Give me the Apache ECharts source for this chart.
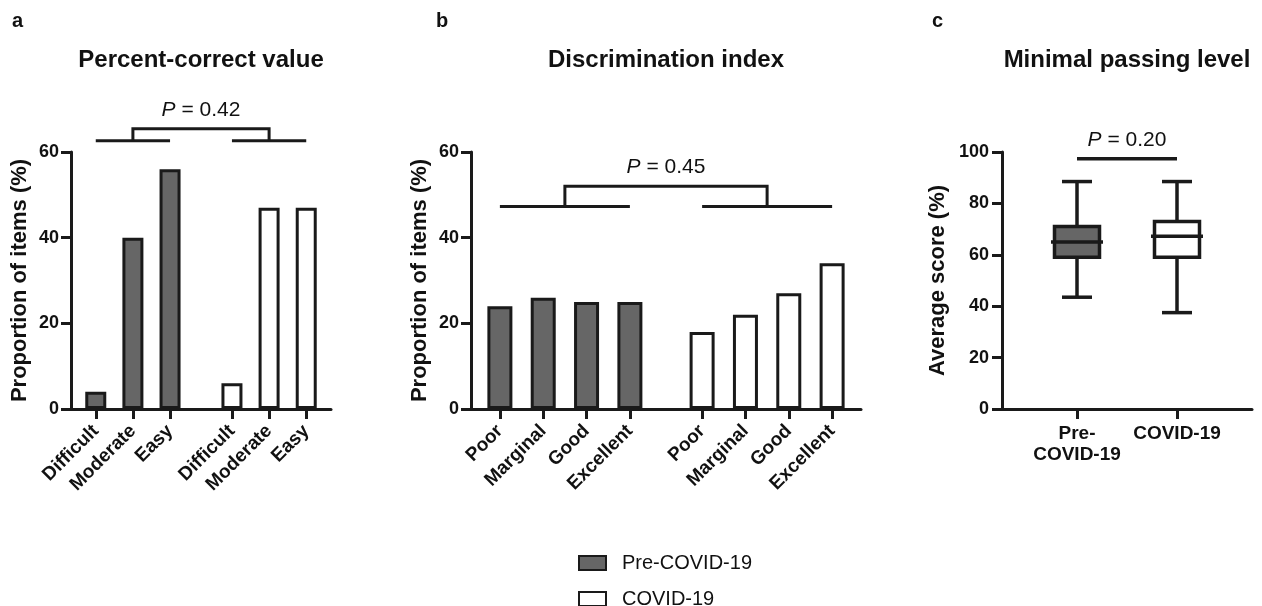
<!DOCTYPE html>
<html>
<head>
<meta charset="utf-8">
<script src="https://cdn.jsdelivr.net/npm/echarts@6/dist/echarts.min.js"></script>
<style>
html,body{margin:0;padding:0;background:#fff;}
#chart{width:1262px;height:606px;}
</style>
</head>
<body>
<div id="chart"></div>
<script>
// ---------- data ----------
const catsA = ['Difficult', 'Moderate', 'Easy'];
const preA = [4, 40, 56];
const covA = [6, 47, 47];

const catsB = ['Poor', 'Marginal', 'Good', 'Excellent'];
const preB = [24, 26, 25, 25];
const covB = [18, 22, 27, 34];

const catsC = ['Pre-\nCOVID-19', 'COVID-19'];
// min, Q1, median, Q3, max
const boxPre = [43.5, 59, 65, 71, 88.5];
const boxCov = [37.5, 59, 67.2, 73, 88.5];

const yTicksAB = [0, 20, 40, 60];
const yTicksC = [0, 20, 40, 60, 80, 100];

const seriesNames = ['Pre-COVID-19', 'COVID-19'];
const pValues = ['0.42', '0.45', '0.20'];
// bracket levels (data units): lower, upper, label
const bracketA = [62.6, 65.4, 69.8];
const bracketB = [47.3, 52.0, 56.4];
// line level, label level
const bracketC = [97.4, 104.5];

// ---------- helpers ----------
const FONT = "'Liberation Sans', Arial, Helvetica, sans-serif";
const INK = '#1a1a1a';
const TXT = '#111111';
const GRAY = '#666666';

function buildSlots(groups, pad, between, gap) {
  const cats = [], pos = [];
  for (let i = 0; i < pad; i++) cats.push('');
  groups.forEach((g, gi) => {
    if (gi > 0) for (let i = 0; i < gap; i++) cats.push('');
    const p = [];
    g.forEach((c, ci) => {
      if (ci > 0) for (let i = 0; i < between; i++) cats.push('');
      p.push(cats.length);
      cats.push(c);
    });
    pos.push(p);
  });
  for (let i = 0; i < pad; i++) cats.push('');
  return { cats, pos };
}
function spread(slots, gi, values) {
  const arr = slots.cats.map(() => '-');
  slots.pos[gi].forEach((p, i) => { arr[p] = values[i]; });
  return arr;
}

const slotsA = buildSlots([catsA, catsA], 2, 2, 4);
const slotsB = buildSlots([catsB, catsB], 2, 2, 4);
const slotsC = buildSlots([[catsC[0]], [catsC[1]]], 3, 0, 3);

function xAxisFor(slots, gridIndex, rotate, fs, margin) {
  return {
    type: 'category', gridIndex, data: slots.cats, boundaryGap: false,
    axisLine: { lineStyle: { color: INK, width: 3 } },
    axisTick: { length: 10, lineStyle: { color: INK, width: 3 }, interval: (i, v) => v !== '' },
    axisLabel: {
      interval: (i, v) => v !== '', rotate: rotate, margin: margin,
      color: TXT, fontFamily: FONT, fontWeight: 'bold', fontSize: fs, lineHeight: 21
    },
    splitLine: { show: false }
  };
}
function yAxisFor(gridIndex, ticks, name, gap, margin) {
  return {
    type: 'value', gridIndex, min: ticks[0], max: ticks[ticks.length - 1],
    interval: ticks[1] - ticks[0],
    name: name, nameLocation: 'middle', nameGap: gap,
    nameTextStyle: { color: TXT, fontFamily: FONT, fontWeight: 'bold', fontSize: 22 },
    axisLine: { show: true, lineStyle: { color: INK, width: 3 } },
    axisTick: { show: true, length: 10, lineStyle: { color: INK, width: 3 } },
    axisLabel: { color: TXT, fontFamily: FONT, fontWeight: 'bold', fontSize: 18, margin: margin },
    splitLine: { show: false }
  };
}
function barSeries(name, xi, data, fill, bw) {
  return {
    type: 'bar', name, xAxisIndex: xi, yAxisIndex: xi, data,
    barWidth: bw, barGap: '-100%',
    itemStyle: { color: fill, borderColor: INK, borderWidth: 3 },
    emphasis: { disabled: true }, silent: true
  };
}
function pText(val) {
  return {
    text: '{i|P} = ' + val,
    rich: { i: { fontStyle: 'italic', fontSize: 21, fontFamily: FONT, fill: TXT } },
    fontSize: 21, fontFamily: FONT, fill: TXT, align: 'center', verticalAlign: 'middle'
  };
}
function groupBracket(slots, levels, val) {
  return function (params, api) {
    const g0 = slots.pos[0], g1 = slots.pos[1];
    const P = (i, y) => api.coord([i, y]);
    const a0 = P(g0[0], levels[0]), a1 = P(g0[g0.length - 1], levels[0]);
    const b0 = P(g1[0], levels[0]), b1 = P(g1[g1.length - 1], levels[0]);
    const cx0 = (a0[0] + a1[0]) / 2, cx1 = (b0[0] + b1[0]) / 2;
    const yl = a0[1], yh = P(g0[0], levels[1])[1], yt = P(g0[0], levels[2])[1];
    const st = { stroke: INK, lineWidth: 3, fill: null };
    return {
      type: 'group', children: [
        { type: 'line', shape: { x1: a0[0], y1: yl, x2: a1[0], y2: yl }, style: st },
        { type: 'line', shape: { x1: b0[0], y1: yl, x2: b1[0], y2: yl }, style: st },
        { type: 'polyline', shape: { points: [[cx0, yl], [cx0, yh], [cx1, yh], [cx1, yl]] }, style: st },
        { type: 'text', x: (cx0 + cx1) / 2, y: yt, style: pText(val) }
      ]
    };
  };
}

const boxFills = [GRAY, '#ffffff'];
function renderBox(params, api) {
  const x = api.value(0);
  const v = [1, 2, 3, 4, 5].map(d => api.value(d));
  const c = v.map(y => api.coord([x, y]));
  const cx = c[0][0];
  const bw = 45, cw = 30, mw = 52;
  const st = { stroke: INK, lineWidth: 3.5, fill: null };
  return {
    type: 'group', children: [
      { type: 'line', shape: { x1: cx, y1: c[4][1], x2: cx, y2: c[3][1] }, style: st },
      { type: 'line', shape: { x1: cx, y1: c[1][1], x2: cx, y2: c[0][1] }, style: st },
      { type: 'line', shape: { x1: cx - cw / 2, y1: c[4][1], x2: cx + cw / 2, y2: c[4][1] }, style: st },
      { type: 'line', shape: { x1: cx - cw / 2, y1: c[0][1], x2: cx + cw / 2, y2: c[0][1] }, style: st },
      { type: 'rect', shape: { x: cx - bw / 2, y: c[3][1], width: bw, height: c[1][1] - c[3][1] },
        style: { stroke: INK, lineWidth: 3.5, fill: boxFills[params.dataIndex] } },
      { type: 'line', shape: { x1: cx - mw / 2, y1: c[2][1], x2: cx + mw / 2, y2: c[2][1] }, style: st }
    ]
  };
}
function renderBracketC(params, api) {
  const p0 = api.coord([slotsC.pos[0][0], bracketC[0]]);
  const p1 = api.coord([slotsC.pos[1][0], bracketC[0]]);
  const yt = api.coord([slotsC.pos[0][0], bracketC[1]])[1];
  return {
    type: 'group', children: [
      { type: 'line', shape: { x1: p0[0], y1: p0[1], x2: p1[0], y2: p1[1] }, style: { stroke: INK, lineWidth: 3.5 } },
      { type: 'text', x: (p0[0] + p1[0]) / 2, y: yt, style: pText(pValues[2]) }
    ]
  };
}

const titleStyle = { color: TXT, fontFamily: FONT, fontWeight: 'bold', fontSize: 24 };
const letterStyle = { color: TXT, fontFamily: FONT, fontWeight: 'bold', fontSize: 20 };

const option = {
  backgroundColor: '#ffffff',
  animation: false,
  title: [
    { text: 'a', left: 12, top: 11, padding: 0, textStyle: letterStyle },
    { text: 'b', left: 436, top: 11, padding: 0, textStyle: letterStyle },
    { text: 'c', left: 932, top: 11, padding: 0, textStyle: letterStyle },
    { text: 'Percent-correct value', left: 201, top: 48, padding: 0, textAlign: 'center', textStyle: titleStyle },
    { text: 'Discrimination index', left: 666, top: 48, padding: 0, textAlign: 'center', textStyle: titleStyle },
    { text: 'Minimal passing level', left: 1127, top: 48, padding: 0, textAlign: 'center', textStyle: titleStyle }
  ],
  legend: {
    data: seriesNames, orient: 'vertical', left: 578, top: 553, height: 60, padding: 0,
    itemWidth: 27, itemHeight: 14, itemGap: 16, selectedMode: false,
    icon: 'rect',
    textStyle: { color: TXT, fontFamily: FONT, fontSize: 20, lineHeight: 19, padding: [0, 0, 0, 11] }
  },
  grid: [
    { left: 71, top: 152, width: 260, height: 257 },
    { left: 471, top: 152, width: 390, height: 257 },
    { left: 1002, top: 152, width: 250, height: 257 }
  ],
  xAxis: [
    xAxisFor(slotsA, 0, 45, 19, 19),
    xAxisFor(slotsB, 1, 45, 19, 19),
    xAxisFor(slotsC, 2, 0, 19, 14)
  ],
  yAxis: [
    yAxisFor(0, yTicksAB, 'Proportion of items (%)', 40, 12),
    yAxisFor(1, yTicksAB, 'Proportion of items (%)', 40, 12),
    yAxisFor(2, yTicksC, 'Average score (%)', 53, 13)
  ],
  series: [
    barSeries(seriesNames[0], 0, spread(slotsA, 0, preA), GRAY, 21),
    barSeries(seriesNames[1], 0, spread(slotsA, 1, covA), '#ffffff', 21),
    barSeries(seriesNames[0], 1, spread(slotsB, 0, preB), GRAY, 25),
    barSeries(seriesNames[1], 1, spread(slotsB, 1, covB), '#ffffff', 25),
    { type: 'custom', name: 'bracketA', xAxisIndex: 0, yAxisIndex: 0, clip: false, silent: true,
      renderItem: groupBracket(slotsA, bracketA, pValues[0]), data: [[0, 0]] },
    { type: 'custom', name: 'bracketB', xAxisIndex: 1, yAxisIndex: 1, clip: false, silent: true,
      renderItem: groupBracket(slotsB, bracketB, pValues[1]), data: [[0, 0]] },
    { type: 'custom', name: 'box', xAxisIndex: 2, yAxisIndex: 2, clip: false, silent: true,
      encode: { x: 0, y: [1, 2, 3, 4, 5] },
      renderItem: renderBox,
      data: [[slotsC.pos[0][0]].concat(boxPre), [slotsC.pos[1][0]].concat(boxCov)] },
    { type: 'custom', name: 'bracketC', xAxisIndex: 2, yAxisIndex: 2, clip: false, silent: true,
      renderItem: renderBracketC, data: [[0, 0]] }
  ]
};

const chart = echarts.init(document.getElementById('chart'), null, { renderer: 'canvas' });
chart.setOption(option);
</script>
</body>
</html>
